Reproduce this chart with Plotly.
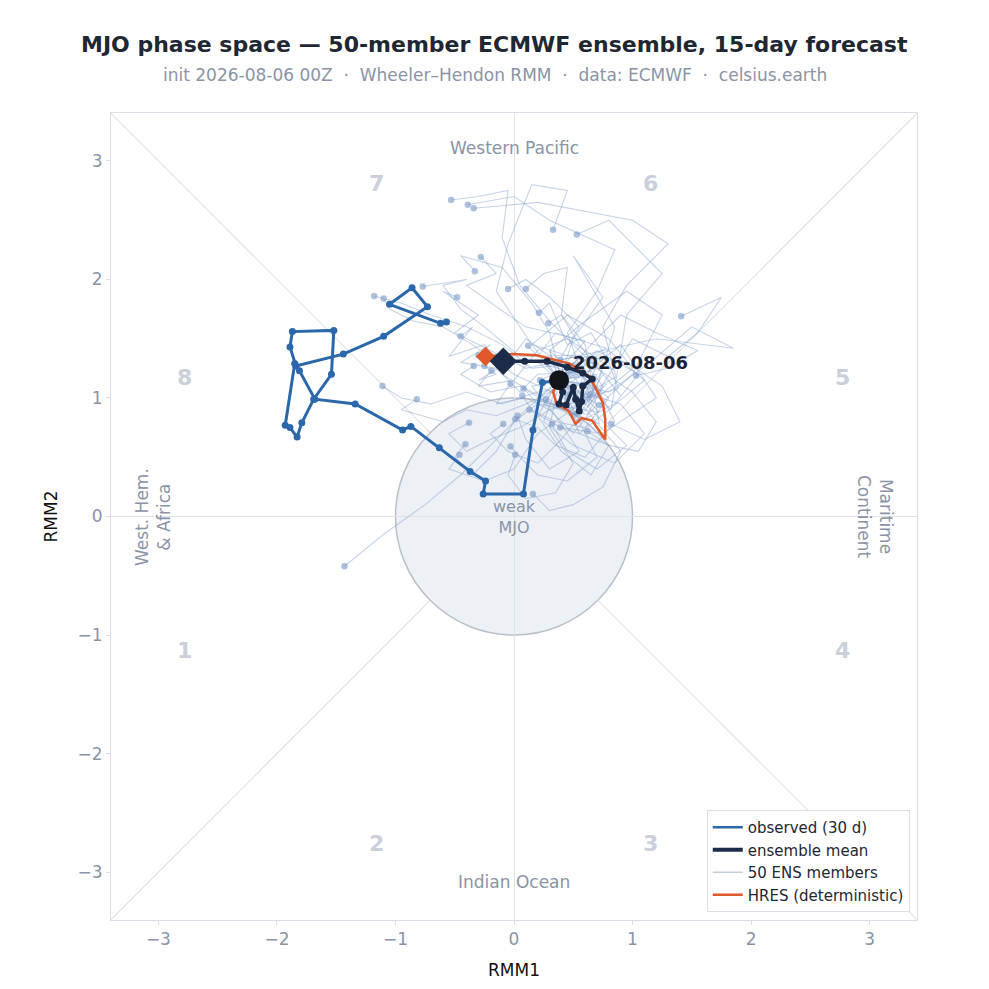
import plotly.graph_objects as go

# observed RMM track, last 30 days (oldest first)
obs_x = [-0.57, -0.62, -1.05, -0.86, -0.73, -1.10, -1.44, -1.84, -1.89, -1.87, -1.52,
         -1.54, -1.69, -1.79, -1.83, -1.89, -1.93, -1.85, -1.81, -1.68, -1.34, -0.94,
         -0.87, -0.63, -0.37, -0.24, -0.26, 0.08, 0.16, 0.24, 0.38]
obs_y = [1.64, 1.63, 1.79, 1.93, 1.77, 1.52, 1.37, 1.27, 1.43, 1.56, 1.57,
         1.20, 0.99, 0.79, 0.67, 0.75, 0.77, 1.29, 1.23, 0.99, 0.95, 0.73,
         0.76, 0.58, 0.38, 0.30, 0.19, 0.19, 0.73, 1.13, 1.15]

# ensemble mean forecast
mean_x = [0.38, 0.41, 0.38, 0.44, 0.50, 0.52, 0.55, 0.57, 0.58, 0.66, 0.58, 0.45, 0.28, 0.09, -0.09]
mean_y = [1.15, 1.05, 0.95, 0.94, 1.09, 0.99, 0.89, 0.97, 1.10, 1.16, 1.21, 1.26, 1.31, 1.31, 1.31]

# HRES deterministic forecast
hres_x = [0.38, 0.33, 0.36, 0.46, 0.52, 0.57, 0.66, 0.77, 0.77, 0.75, 0.68, 0.64, 0.47, 0.19, -0.01, -0.24]
hres_y = [1.15, 1.05, 0.95, 0.89, 0.78, 0.83, 0.81, 0.65, 0.82, 0.96, 1.10, 1.18, 1.29, 1.36, 1.37, 1.35]

# 50 ENS members, (x, y) per step
members = [
    [(0.38,1.15),(0.62,1.02),(0.74,1.22),(0.55,1.40),(0.30,1.65),(0.05,1.95),(-0.10,2.35),(-0.05,2.75),(-0.30,2.70),(-0.53,2.67)],
    [(0.38,1.15),(0.20,1.30),(0.48,1.22),(0.66,0.96),(0.45,1.55),(0.70,1.90),(0.85,2.25),(0.30,2.50),(0.00,2.70),(-0.39,2.63)],
    [(0.38,1.15),(0.60,1.25),(0.52,0.98),(0.86,1.18),(0.75,1.60),(0.95,1.95),(1.30,2.30),(1.00,2.50),(0.20,2.65),(-0.34,2.60)],
    [(0.38,1.15),(0.55,0.92),(0.70,1.28),(0.15,1.45),(-0.15,1.90),(-0.05,2.30),(0.15,2.80),(0.45,2.75),(0.33,2.42)],
    [(0.38,1.15),(0.70,1.35),(0.58,1.12),(0.82,0.90),(0.95,1.70),(1.25,2.05),(1.05,2.25),(0.80,2.50),(0.53,2.38)],
    [(0.38,1.15),(0.25,1.35),(0.42,1.28),(0.60,1.48),(0.10,1.60),(-0.05,1.70),(-0.40,1.95),(-0.15,2.05),(-0.28,2.19)],
    [(0.38,1.15),(0.50,1.30),(0.68,1.05),(0.48,0.84),(0.30,1.55),(0.15,1.80),(-0.10,2.10),(-0.45,2.20),(-0.33,2.07)],
    [(0.38,1.15),(0.20,1.00),(0.44,0.92),(0.40,1.35),(0.55,1.60),(0.30,1.85),(0.10,2.00),(-0.05,1.92)],
    [(0.38,1.15),(0.65,1.10),(0.48,0.88),(0.72,0.78),(0.60,1.45),(0.40,1.70),(0.45,2.10),(0.25,2.05),(0.10,1.92)],
    [(0.38,1.15),(0.52,1.02),(0.34,1.30),(0.10,1.25),(-0.20,1.40),(-0.50,1.55),(-0.30,1.70),(-0.60,1.90),(-0.48,1.85)],
    [(0.38,1.15),(0.56,1.36),(0.05,1.35),(-0.25,1.60),(-0.45,1.75),(-0.60,1.95),(-0.40,2.00),(-0.77,1.94)],
    [(0.38,1.15),(0.58,1.30),(0.15,1.25),(-0.10,1.45),(-0.40,1.60),(-0.70,1.70),(-0.95,1.80),(-1.18,1.86)],
    [(0.38,1.15),(0.46,0.98),(0.00,1.20),(-0.35,1.45),(-0.60,1.60),(-0.85,1.65),(-1.05,1.75),(-1.10,1.84)],
    [(0.38,1.15),(0.60,1.00),(0.88,1.08),(0.80,1.30),(0.65,1.55),(0.45,1.45),(0.30,1.80),(0.21,1.72)],
    [(0.38,1.15),(0.25,0.95),(0.55,0.85),(0.75,1.20),(0.90,1.02),(0.55,1.45),(0.40,1.70),(0.29,1.63)],
    [(0.38,1.15),(0.50,0.90),(0.15,1.05),(-0.10,1.20),(-0.25,1.45),(-0.55,1.35),(-0.35,1.60),(-0.45,1.52)],
    [(0.38,1.15),(0.70,1.20),(0.62,0.92),(1.00,1.50),(1.30,1.35),(1.55,1.55),(1.75,1.85),(1.41,1.69)],
    [(0.38,1.15),(0.50,0.95),(0.70,1.05),(0.55,1.30),(0.78,1.42),(0.35,1.55),(0.20,1.35),(0.12,1.44)],
    [(0.38,1.15),(0.58,1.22),(0.20,1.20),(0.05,1.05),(-0.15,1.25),(-0.45,1.30),(-0.20,1.45),(-0.30,1.36)],
    [(0.38,1.15),(0.55,1.05),(0.72,0.88),(0.30,0.95),(0.05,1.10),(-0.20,1.05),(-0.45,1.20),(-0.34,1.27)],
    [(0.38,1.15),(0.30,1.40),(0.55,1.18),(0.10,1.50),(-0.05,1.30),(-0.30,1.15),(-0.15,1.20),(-0.25,1.27)],
    [(0.38,1.15),(0.65,1.30),(0.84,1.24),(0.45,1.50),(0.20,1.40),(0.00,1.15),(-0.30,1.10),(-0.19,1.23)],
    [(0.38,1.15),(0.70,0.95),(0.50,0.70),(0.30,0.90),(0.10,1.00),(-0.15,0.95),(-0.03,1.12)],
    [(0.38,1.15),(0.25,1.30),(0.55,1.35),(0.75,1.10),(0.62,0.86),(0.45,0.90),(0.20,0.95),(0.08,1.08)],
    [(0.38,1.15),(0.50,1.25),(0.80,1.00),(0.60,0.75),(0.35,0.80),(0.15,0.90),(0.07,1.02)],
    [(0.38,1.15),(0.62,1.12),(0.20,1.05),(-0.10,0.95),(-0.40,1.05),(-0.70,0.95),(-0.95,1.00),(-1.11,1.10)],
    [(0.38,1.15),(0.56,1.18),(0.10,0.95),(-0.15,0.85),(-0.40,0.90),(-0.60,0.80),(-0.95,0.90),(-0.82,0.99)],
    [(0.38,1.15),(0.58,0.98),(0.30,0.90),(0.05,0.75),(-0.20,0.65),(-0.40,0.55),(-0.55,0.70),(-0.38,0.79)],
    [(0.38,1.15),(0.60,0.95),(0.78,1.12),(0.40,0.65),(0.20,0.45),(-0.05,0.55),(-0.20,0.70),(-0.09,0.78)],
    [(0.38,1.15),(0.15,1.10),(0.35,0.85),(0.55,0.55),(0.30,0.40),(0.10,0.65),(0.03,0.85)],
    [(0.38,1.15),(0.70,1.10),(0.85,0.80),(0.60,0.50),(0.35,0.60),(0.20,0.75),(0.01,0.82)],
    [(0.38,1.15),(0.52,1.25),(0.20,0.95),(0.00,0.80),(-0.15,0.55),(-0.35,0.35),(-0.50,0.50),(-0.41,0.61)],
    [(0.38,1.15),(0.45,0.90),(0.66,1.02),(0.20,0.70),(0.00,0.40),(-0.25,0.30),(-0.55,0.40),(-0.46,0.52)],
    [(0.38,1.15),(0.55,0.80),(0.70,0.50),(0.45,0.30),(0.20,0.35),(0.05,0.50),(-0.03,0.59)],
    [(0.38,1.15),(0.30,0.75),(0.50,0.45),(0.35,0.20),(0.10,0.15),(-0.05,0.35),(0.01,0.52)],
    [(0.38,1.15),(0.65,0.85),(0.90,0.55),(0.75,0.25),(0.50,0.10),(0.30,0.05),(0.16,0.19)],
    [(0.38,1.15),(0.55,1.00),(0.75,0.80),(0.95,0.60),(0.70,0.40),(0.45,0.55),(0.32,0.78)],
    [(0.38,1.15),(0.20,0.85),(0.40,0.55),(0.65,0.35),(0.80,0.60),(0.55,0.70),(0.39,0.75)],
    [(0.38,1.15),(0.70,1.25),(1.00,1.05),(1.20,0.80),(1.05,0.55),(0.80,0.60),(0.62,0.72)],
    [(0.38,1.15),(0.60,1.35),(0.95,1.30),(1.25,1.10),(1.40,0.80),(1.10,0.65),(0.82,0.78)],
    [(0.38,1.15),(0.65,1.45),(0.90,1.70),(1.20,1.55),(1.55,1.40),(1.30,1.25),(1.03,1.19)],
    [(0.38,1.15),(0.10,0.90),(-0.20,0.60),(-0.45,0.35),(-0.75,0.10),(-1.10,-0.15),(-1.43,-0.42)],
    [(0.38,1.15),(0.70,1.40),(1.05,1.20),(0.85,0.95),(0.55,0.80),(0.40,0.90),(0.27,0.99)],
    [(0.38,1.15),(0.15,1.45),(0.45,1.70),(0.80,1.50),(1.00,1.25),(0.70,1.00),(0.47,1.03)],
    [(0.38,1.15),(0.55,0.70),(0.80,0.90),(1.10,1.15),(0.80,1.40),(0.45,1.25),(0.22,1.15)],
    [(0.38,1.15),(0.25,0.80),(0.50,0.60),(0.85,0.45),(1.10,0.70),(0.90,0.95),(0.64,1.03)],
    [(0.38,1.15),(0.60,1.20),(0.90,1.45),(1.20,1.00),(0.75,0.70),(0.40,0.75),(0.13,0.90)],
    [(0.38,1.15),(0.80,1.05),(1.15,1.30),(1.50,1.60),(1.85,1.42),(1.20,1.50),(0.39,1.32)],
    [(0.38,1.15),(0.30,1.40),(0.60,1.65),(0.95,1.90),(1.25,1.70),(1.00,1.20),(0.72,0.94)],
    [(0.38,1.15),(0.50,1.50),(0.75,1.85),(0.50,2.20),(0.85,1.60),(0.70,1.10),(0.51,0.86)],
]

phase_labels = ["1", "2", "3", "4", "5", "6", "7", "8"]
phase_x = [-2.78, -1.16, 1.15, 2.77, 2.77, 1.15, -1.16, -2.78]
phase_y = [-1.13, -2.76, -2.76, -1.13, 1.17, 2.81, 2.81, 1.17]

init_label = "2026-08-06"

OBS = "#2b67ab"
MEAN = "#1b2b48"
ENS = "rgba(130,160,205,0.45)"
HRES = "#e0592b"
GREY = "#8a94a6"
SP = "\u00a0\u00a0·\u00a0\u00a0"

fig = go.Figure()

# ensemble spaghetti
for m in members:
    fig.add_trace(go.Scatter(
        x=[p[0] for p in m], y=[p[1] for p in m], mode="lines",
        line=dict(color=ENS, width=1.1), showlegend=False, hoverinfo="skip"))
fig.add_trace(go.Scatter(
    x=[m[-1][0] for m in members], y=[m[-1][1] for m in members], mode="markers",
    marker=dict(color="rgba(120,152,198,0.6)", size=6.5), showlegend=False, hoverinfo="skip"))

# observed
fig.add_trace(go.Scatter(x=obs_x, y=obs_y, mode="lines+markers",
                         line=dict(color=OBS, width=3), marker=dict(color=OBS, size=7),
                         showlegend=False))
# HRES
fig.add_trace(go.Scatter(x=hres_x, y=hres_y, mode="lines",
                         line=dict(color=HRES, width=2.5), showlegend=False))
fig.add_trace(go.Scatter(x=[hres_x[-1]], y=[hres_y[-1]], mode="markers",
                         marker=dict(color=HRES, size=15, symbol="diamond"), showlegend=False))
# ensemble mean
fig.add_trace(go.Scatter(x=mean_x, y=mean_y, mode="lines+markers",
                         line=dict(color=MEAN, width=3.5), marker=dict(color=MEAN, size=7),
                         showlegend=False))
fig.add_trace(go.Scatter(x=[mean_x[-1]], y=[mean_y[-1]], mode="markers",
                         marker=dict(color=MEAN, size=21, symbol="diamond"), showlegend=False))
fig.add_trace(go.Scatter(x=[obs_x[-1]], y=[obs_y[-1]], mode="markers",
                         marker=dict(color="#111418", size=20), showlegend=False))

# legend entries
for nm, col, w in [("observed (30 d)", OBS, 2.5), ("ensemble mean", MEAN, 4),
                   ("50 ENS members", "#c3cedd", 1.5), ("HRES (deterministic)", HRES, 2.5)]:
    fig.add_trace(go.Scatter(x=[None], y=[None], mode="lines", name=nm,
                             line=dict(color=col, width=w)))

# diagonals + weak circle
fig.add_shape(type="line", x0=-3.4, y0=-3.4, x1=3.4, y1=3.4, layer="below",
              line=dict(color="#dfe3ea", width=1.2))
fig.add_shape(type="line", x0=-3.4, y0=3.4, x1=3.4, y1=-3.4, layer="below",
              line=dict(color="#dfe3ea", width=1.2))
fig.add_shape(type="circle", x0=-1, y0=-1, x1=1, y1=1, layer="below",
              fillcolor="#edf0f5", line=dict(color="#b9c0cc", width=1.5))

for t, x, y in zip(phase_labels, phase_x, phase_y):
    fig.add_annotation(x=x, y=y, text="<b>" + t + "</b>", showarrow=False,
                       font=dict(size=22, color="#c9d0db"))

region_font = dict(size=17, color=GREY)
fig.add_annotation(x=0, y=3.11, text="Western Pacific", showarrow=False, font=region_font)
fig.add_annotation(x=0, y=-3.08, text="Indian Ocean", showarrow=False, font=region_font)
fig.add_annotation(x=-3.05, y=0, text="West. Hem.<br>& Africa", showarrow=False,
                   textangle=-90, font=region_font)
fig.add_annotation(x=3.05, y=0, text="Maritime<br>Continent", showarrow=False,
                   textangle=90, font=region_font)
fig.add_annotation(x=0, y=0, text="weak<br>MJO", showarrow=False, font=dict(size=16, color=GREY))
fig.add_annotation(x=obs_x[-1], y=obs_y[-1], text="<b>" + init_label + "</b>", showarrow=False,
                   xanchor="left", yanchor="middle", xshift=12, yshift=18,
                   font=dict(size=18, color="#1a2233"))

# title and subtitle (centred on the figure, not the axes)
fig.add_annotation(xref="paper", yref="paper", x=0.476, y=1.0855, yanchor="middle",
                   text="<b>MJO phase space — 50-member ECMWF ensemble, 15-day forecast</b>",
                   showarrow=False, font=dict(size=22, color="#1f2733"))
fig.add_annotation(xref="paper", yref="paper", x=0.476, y=1.047, yanchor="middle",
                   text="init 2026-08-06 00Z" + SP + "Wheeler–Hendon RMM" + SP + "data: ECMWF"
                        + SP + "celsius.earth",
                   showarrow=False, font=dict(size=17, color=GREY))

fig.update_layout(
    width=989, height=989,
    margin=dict(l=103, r=80, t=105, b=77),
    paper_bgcolor="white", plot_bgcolor="white",
    font=dict(family="DejaVu Sans", color="#1f2733"),
    legend=dict(x=0.991, y=0.01, xanchor="right", yanchor="bottom", bgcolor="white",
                bordercolor="#d9dee6", borderwidth=1, font=dict(size=15, color="#1f2733"),
                tracegroupgap=0),
    showlegend=True,
)
fig.update_xaxes(range=[-3.4, 3.4], tickvals=[-3, -2, -1, 0, 1, 2, 3], showgrid=False,
                 zeroline=True, zerolinecolor="#dfe3ea", zerolinewidth=1.2,
                 showline=True, linecolor="#d9dee6", mirror=True,
                 ticks="outside", ticklen=4, tickcolor="#d9dee6",
                 tickfont=dict(size=17, color=GREY),
                 title=dict(text="RMM1", font=dict(size=17, color="#111")))
fig.update_yaxes(range=[-3.4, 3.4], tickvals=[-3, -2, -1, 0, 1, 2, 3], showgrid=False,
                 zeroline=True, zerolinecolor="#dfe3ea", zerolinewidth=1.2,
                 showline=True, linecolor="#d9dee6", mirror=True,
                 ticks="outside", ticklen=4, tickcolor="#d9dee6",
                 tickfont=dict(size=17, color=GREY),
                 title=dict(text="RMM2", font=dict(size=17, color="#111")),
                 scaleanchor="x", scaleratio=1)

fig.write_html("out.html")
